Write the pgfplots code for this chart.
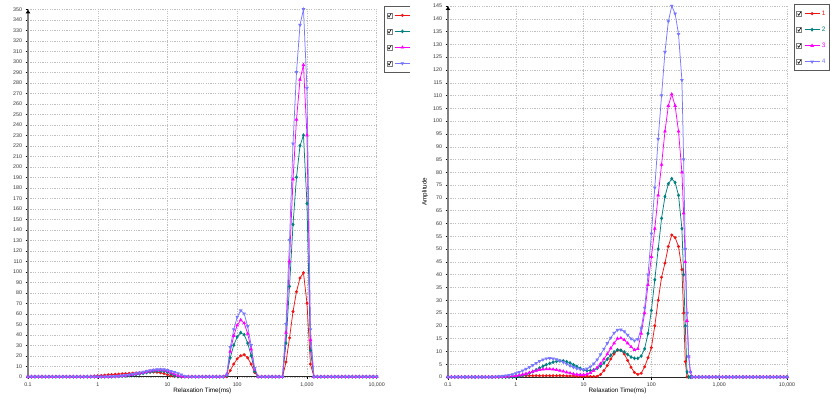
\documentclass[border=0pt]{standalone}
\usepackage{pgfplots}
\pgfplotsset{compat=1.18}
\usepackage{pgfplotstable}
\usepackage{fontspec}
\setmainfont{Liberation Sans}
\usetikzlibrary{arrows.meta}

\definecolor{c1}{RGB}{240,20,20}
\definecolor{c2}{RGB}{0,128,128}
\definecolor{c3}{RGB}{255,0,255}
\definecolor{c4}{RGB}{120,120,255}

\pgfplotstableread{
lx a b c d
-1.00 0 0 0 0
-0.95 0 0 0 0
-0.90 0 0 0 0
-0.85 0 0 0 0
-0.80 0 0 0 0
-0.75 0 0 0 0
-0.70 0 0 0 0
-0.65 0 0 0 0
-0.60 0 0 0 0
-0.55 0 0 0 0
-0.50 0 0 0 0
-0.45 0 0 0 0
-0.40 0 0 0 0
-0.35 0 0 0 0
-0.30 0 0 0 0
-0.25 0 0 0 0
-0.20 0 0 0 0
-0.15 0 0 0 0
-0.10 0.3 0 0 0
-0.05 0.6 0 0 0
0.00 0.9 0 0 0
0.05 1.2 0 0 0
0.10 1.5 0 0 0
0.15 1.8 0 0 0
0.20 2.0 0 0.1 0.2
0.25 2.3 0.1 0.3 0.4
0.30 2.5 0.3 0.5 0.7
0.35 2.8 0.5 0.8 1.0
0.40 3.0 0.8 1.2 1.4
0.45 3.2 1.2 1.6 1.9
0.50 3.4 1.6 2.1 2.5
0.55 3.6 2.1 2.7 3.1
0.60 3.8 2.7 3.3 3.8
0.65 4.0 3.3 4.0 4.5
0.70 4.2 3.9 4.7 5.2
0.75 4.4 4.5 5.4 5.9
0.80 4.5 5.0 6.0 6.5
0.85 4.3 5.4 6.4 6.9
0.90 3.8 5.5 6.5 7.0
0.95 3.0 5.2 6.2 6.8
1.00 2.0 4.3 5.4 6.2
1.05 1.0 2.8 4.0 5.3
1.10 0.3 1.0 2.5 4.3
1.15 0 0.2 1.2 3.2
1.20 0 0 0.3 2.0
1.25 0 0 0 0.5
1.30 0 0 0 0
1.35 0 0 0 0
1.40 0 0 0 0
1.45 0 0 0 0
1.50 0 0 0 0
1.55 0 0 0 0
1.60 0 0 0 0
1.65 0 0 0 0
1.70 0 0 0 0
1.75 0 0 0 0
1.80 0 0 0 0
1.85 0 1 2 2
1.90 6 18 24 28
1.95 12 30 39 45
2.00 17 38 49 57
2.05 20 42 54 63
2.10 21 40 51 60
2.15 18 32 41 48
2.20 12 20 26 30
2.25 4 5 7 8
2.30 0 0 0 0
2.35 0 0 0 0
2.40 0 0 0 0
2.45 0 0 0 0
2.50 0 0 0 0
2.55 0 0 0 0
2.60 0 0 0 0
2.65 0 0 0 0
2.70 14 32 42 50
2.75 37 86 110 130
2.80 62 145 188 222
2.85 81 190 245 290
2.90 94 220 283 335
2.95 99 230 297 350
3.00 70 165 230 275
3.05 12 25 35 45
3.10 0 0 0 0
3.15 0 0 0 0
3.20 0 0 0 0
3.25 0 0 0 0
3.30 0 0 0 0
3.35 0 0 0 0
3.40 0 0 0 0
3.45 0 0 0 0
3.50 0 0 0 0
3.55 0 0 0 0
3.60 0 0 0 0
3.65 0 0 0 0
3.70 0 0 0 0
3.75 0 0 0 0
3.80 0 0 0 0
3.85 0 0 0 0
3.90 0 0 0 0
3.95 0 0 0 0
4.00 0 0 0 0
}\leftdata

\pgfplotstableread{
lx a b c d
-1.00 0 0 0 0
-0.95 0 0 0 0
-0.90 0 0 0 0
-0.85 0 0 0 0
-0.80 0 0 0 0
-0.75 0 0 0 0
-0.70 0 0 0 0
-0.65 0 0 0 0
-0.60 0 0 0 0
-0.55 0 0 0 0
-0.50 0 0 0 0
-0.45 0 0 0 0
-0.40 0 0 0 0
-0.35 0 0 0 0
-0.30 0 0 0 0.1
-0.25 0 0 0.05 0.2
-0.20 0 0 0.1 0.3
-0.15 0 0 0.15 0.5
-0.10 0.1 0 0.25 0.7
-0.05 0.2 0 0.35 1.0
0.00 0.3 0.1 0.5 1.4
0.05 0.4 0.3 0.7 1.9
0.10 0.5 0.6 1.0 2.5
0.15 0.5 1.0 1.3 3.1
0.20 0.5 1.5 1.7 3.8
0.25 0.5 2.1 2.1 4.6
0.30 0.5 2.8 2.5 5.4
0.35 0.5 3.5 2.8 6.2
0.40 0.5 4.2 3.0 6.8
0.45 0.5 4.8 3.1 7.2
0.50 0.5 5.3 3.1 7.3
0.55 0.5 5.8 3.0 7.2
0.60 0.5 6.1 2.8 6.9
0.65 0.5 6.3 2.5 6.4
0.70 0.5 6.3 2.2 5.8
0.75 0.4 6.0 1.8 5.1
0.80 0.4 5.5 1.5 4.4
0.85 0.4 4.8 1.2 3.8
0.90 0.3 4.1 1.0 3.3
0.95 0.3 3.4 0.9 3.0
1.00 0.3 2.8 0.9 2.9
1.05 0.3 2.5 1.1 3.2
1.10 0.2 2.5 1.6 4.0
1.15 0.2 2.8 2.5 5.2
1.20 0.3 3.4 3.7 6.8
1.25 1.0 4.3 5.2 8.8
1.30 2.5 5.5 7.0 11.0
1.35 4.5 7.0 9.0 13.2
1.40 7.0 8.5 11.2 15.3
1.45 9.0 9.8 13.2 17.2
1.50 10.6 10.6 15.0 18.4
1.55 10.5 10.4 15.2 18.5
1.60 9.0 9.8 14.5 17.8
1.65 6.5 8.8 13.2 16.4
1.70 3.8 7.8 11.8 15.0
1.75 1.8 7.3 10.6 14.2
1.80 1.0 7.3 11.0 14.8
1.85 1.5 8.2 17.0 19.0
1.90 4.0 11.0 25.0 27.0
1.95 7.5 17.0 36.0 40.0
2.00 11.5 26.0 47.0 56.0
2.05 20.0 38.0 58.0 74.0
2.10 30.0 50.0 71.0 93.0
2.15 39.0 62.0 83.0 110.0
2.20 44.5 70.5 96.0 127.0
2.25 51.0 75.5 106.0 139.0
2.30 55.5 77.5 110.5 145.0
2.35 54.5 76.0 106.0 142.0
2.40 51.0 71.0 96.0 134.0
2.45 42.0 58.0 80.0 116.0
2.475 25.0 40.0 64.0 85.0
2.50 6.0 20.0 45.0 50.0
2.525 0 2.0 22.0 25.0
2.55 0 0 8.0 8.0
2.575 0 0 2.0 2.0
2.60 0 0 0 0
2.65 0 0 0 0
2.70 0 0 0 0
2.75 0 0 0 0
2.80 0 0 0 0
2.85 0 0 0 0
2.90 0 0 0 0
2.95 0 0 0 0
3.00 0 0 0 0
3.05 0 0 0 0
3.10 0 0 0 0
3.15 0 0 0 0
3.20 0 0 0 0
3.25 0 0 0 0
3.30 0 0 0 0
3.35 0 0 0 0
3.40 0 0 0 0
3.45 0 0 0 0
3.50 0 0 0 0
3.55 0 0 0 0
3.60 0 0 0 0
3.65 0 0 0 0
3.70 0 0 0 0
3.75 0 0 0 0
3.80 0 0 0 0
3.85 0 0 0 0
3.90 0 0 0 0
3.95 0 0 0 0
4.00 0 0 0 0
}\rightdata

\pgfplotsset{
  nmr/.style={
    scale only axis,
    axis x line=bottom, axis y line=left,
    x axis line style={black!85, line width=1pt, -{Latex[length=4pt,width=4pt,color=black]}},
    y axis line style={gray, line width=2pt, -{Latex[length=4pt,width=5pt,color=black]}},
    xmin=-1, xmax=4,
    xtick={-1,0,1,2,3,4},
    xticklabels={0.1,1,10,100,{1,000},{10,000}},
    grid=major,
    major grid style={gray!50, dash pattern=on 1.2pt off 1.2pt, line width=0.4pt},
    tick align=outside, major tick length=2.5pt,
    tick style={black, line width=0.4pt},
    ticklabel style={font=\fontsize{5.3}{6}\selectfont, text=black!80},
    /pgf/number format/assume math mode=true,
    label style={font=\fontsize{6.3}{7}\selectfont},
    xlabel={Relaxation Time(ms)},
    xlabel style={at={(axis description cs:0.5,0)}, yshift=-14pt, anchor=center},
    clip=false,
    legend cell align=left,
    legend style={draw=gray!70!black, line width=0.8pt, font=\fontsize{6.5}{7}\selectfont,
      row sep=6pt, inner xsep=2pt, inner ysep=4pt, anchor=north west},
    legend image code/.code={
      \draw[draw=gray, fill=white, solid, line width=0.4pt] (0pt,-2.5pt) rectangle (5pt,2.5pt);
      \draw[black, solid, line width=0.6pt] (1pt,0pt) -- (2.2pt,-1.6pt) -- (4.3pt,2pt);
      \draw[mark repeat=2, mark phase=2, #1] plot coordinates {(8pt,0pt) (15.5pt,0pt) (23pt,0pt)};
    },
    every axis plot/.append style={line width=0.75pt, mark options={solid}},
  }
}

\begin{document}
\begin{tikzpicture}[x=1pt,y=1pt]
\begin{axis}[nmr, at={(28pt,23.3pt)}, anchor=south west,
  width=348.7pt, height=367.4pt, ymin=0, ymax=350, ytick distance=10,
  legend style={at={(1.0218,1.009)}}]
\addplot[c1, mark=*, mark size=1.1pt] table[x=lx, y=a] {\leftdata};
\addlegendentry{\textcolor{c1}{1}}
\addplot[c2, mark=diamond*, mark size=1.4pt] table[x=lx, y=b] {\leftdata};
\addlegendentry{\textcolor{c2}{2}}
\addplot[c3, mark=triangle*, mark size=1.4pt] table[x=lx, y=c] {\leftdata};
\addlegendentry{\textcolor{c3}{3}}
\addplot[c4, mark=triangle*, mark size=1.4pt, mark options={rotate=180}] table[x=lx, y=d] {\leftdata};
\addlegendentry{\textcolor{c4}{4}}
\end{axis}
\fill[white] (410pt,-5pt) rectangle (840pt,405pt);
\begin{axis}[nmr, at={(448pt,23pt)}, anchor=south west,
  width=339pt, height=371pt, ymin=0, ymax=145, ytick distance=5,
  ylabel={Amplitude},
  ylabel style={at={(axis description cs:-0.0678,0.5)}, anchor=center},
  legend style={at={(1.0206,1.0046)}}]
\addplot[c1, mark=*, mark size=1.1pt] table[x=lx, y=a] {\rightdata};
\addlegendentry{\textcolor{c1}{1}}
\addplot[c2, mark=diamond*, mark size=1.4pt] table[x=lx, y=b] {\rightdata};
\addlegendentry{\textcolor{c2}{2}}
\addplot[c3, mark=triangle*, mark size=1.4pt] table[x=lx, y=c] {\rightdata};
\addlegendentry{\textcolor{c3}{3}}
\addplot[c4, mark=triangle*, mark size=1.4pt, mark options={rotate=180}] table[x=lx, y=d] {\rightdata};
\addlegendentry{\textcolor{c4}{4}}
\end{axis}
\pgfresetboundingbox
\path[use as bounding box] (0pt,0pt) rectangle (831pt,400pt);
\end{tikzpicture}
\end{document}
